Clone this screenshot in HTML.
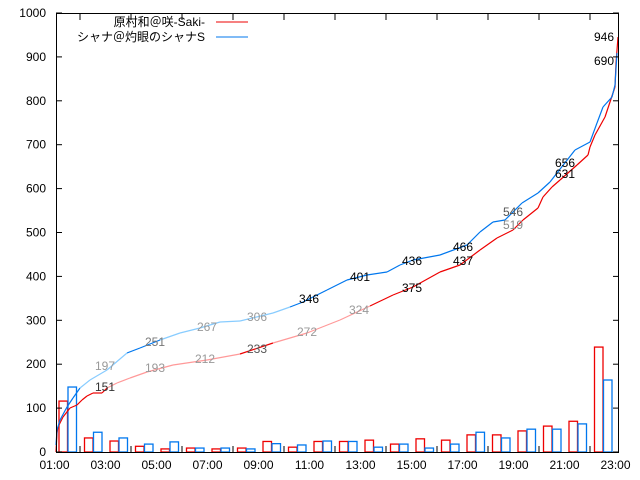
<!DOCTYPE html>
<html><head><meta charset="utf-8"><style>
html,body{margin:0;padding:0;background:#fff;}
svg{display:block;font-family:"Liberation Sans","Noto Sans CJK JP",sans-serif;}
</style></head><body>
<svg id="s" width="640" height="480" viewBox="0 0 640 480" xmlns="http://www.w3.org/2000/svg">
<rect width="640" height="480" fill="#fff"/>
<g id="bars"></g>
<g id="lines" fill="none" stroke-width="1.2"></g>
<g id="ax"></g>
<g id="lab" font-size="12" text-anchor="middle"></g>
<g font-size="12" text-anchor="end" fill="#000">
<text x="205" y="26">原村和＠咲-Saki-</text>
<text x="205" y="41">シャナ＠灼眼のシャナS</text>
</g>
<line x1="216" y1="22" x2="248" y2="22" stroke="#e00" stroke-width="1"/>
<line x1="216" y1="37" x2="248" y2="37" stroke="#07e" stroke-width="1"/>
</svg>
<script>
const NS="http://www.w3.org/2000/svg";
function el(p,t,a,txt){const e=document.createElementNS(NS,t);for(const k in a)e.setAttribute(k,a[k]);if(txt!==undefined)e.textContent=txt;document.getElementById(p).appendChild(e);return e;}
const Y=v=>452-v*0.439;
const R=[116,32,25,13,7,9,7,9,24,11,24,24,27,18,30,27,39,39,48,59,70,239];
const B=[148,45,32,18,23,9,9,7,19,16,25,24,11,18,9,18,45,32,52,52,64,164];
for(let i=0;i<22;i++){const x=59+25.5*i;
el("bars","rect",{x:x,y:Y(R[i]),width:8.5,height:R[i]*0.439,fill:"none",stroke:"#e00","stroke-width":1.3});
el("bars","rect",{x:x+9,y:Y(B[i]),width:8.5,height:B[i]*0.439,fill:"none",stroke:"#07e","stroke-width":1.3});}
const red=[[56,452],[57,433],[58,427],[63,417],[70,408],[77,405],[82,400],[87,396],[93,393],[102,393],[107,388],[117,383],[130,378],[147,372],[173,365],[207,360],[240,354],[273,343],[307,333],[340,320],[370,306],[393,295],[413,287],[440,272],[460,265],[480,250],[497,238],[513,230],[523,220],[538,208],[543,197],[552,187],[560,180],[577,165],[588,155],[590,147],[595,135],[605,117],[613,93],[615,87],[616,63],[618,37]];
const blue=[[56,445],[57,430],[60,420],[67,407],[73,398],[80,388],[90,380],[107,370],[127,353],[140,348],[160,340],[180,333],[200,328],[220,322],[240,321],[273,313],[290,307],[303,302],[327,290],[347,280],[367,275],[387,272],[400,265],[413,260],[440,255],[467,245],[480,232],[493,222],[505,220],[522,203],[538,193],[550,182],[557,173],[575,150],[590,142],[597,123],[603,107],[612,97],[615,85],[617,53]];
function seg(pts,col,light,ranges){
 for(let i=0;i<pts.length-1;i++){const a=pts[i],b=pts[i+1];const mx=(a[0]+b[0])/2;
  const l=ranges.some(r=>mx>=r[0]&&mx<r[1]);
  el("lines","path",{d:`M${a[0]},${a[1]} L${b[0]},${b[1]}`,stroke:l?light:col});}}
seg(red,"#e00","#f99",[[105,237],[275,368]]);
seg(blue,"#07e","#8cf",[[80,125],[140,150],[163,290]]);
el("ax","rect",{x:56.5,y:13.5,width:562,height:439,fill:"none",stroke:"#000","stroke-width":1});
for(let v=0;v<=1000;v+=100){const y=Y(v);
 el("ax","line",{x1:56,y1:y,x2:62,y2:y,stroke:"#000"});
 el("ax","line",{x1:613,y1:y,x2:619,y2:y,stroke:"#000"});
 el("ax","text",{x:46,y:y+4,"font-size":12,"text-anchor":"end"},String(v));}
for(let h=1;h<=23;h++){const x=54.5+25.5*(h-1);
 if(h%2==0){el("ax","line",{x1:x,y1:452,x2:x,y2:446,stroke:"#000"});el("ax","line",{x1:x,y1:14,x2:x,y2:20,stroke:"#000"});}
 else el("ax","text",{x:x,y:469,"font-size":12,"text-anchor":"middle"},(h<10?"0":"")+h+":00");}
const L=[["151",105,391,"#333"],["193",155,372,"#999"],["212",205,363,"#999"],["233",257,353,"#555"],["272",307,336,"#999"],["324",359,314,"#999"],["375",412,292,"#000"],["437",463,265,"#000"],["519",513,229,"#888"],["631",565,178,"#000"],["690",604,65,"#000"],
["197",105,370,"#999"],["251",155,346,"#777"],["267",207,331,"#999"],["306",257,321,"#999"],["346",309,303,"#000"],["401",360,281,"#000"],["436",412,265,"#000"],["466",463,251,"#000"],["546",513,216,"#555"],["656",565,167,"#000"],["946",604,41,"#000"]];
for(const l of L)el("lab","text",{x:l[1],y:l[2],fill:l[3]},l[0]);
</script>
</body></html>
